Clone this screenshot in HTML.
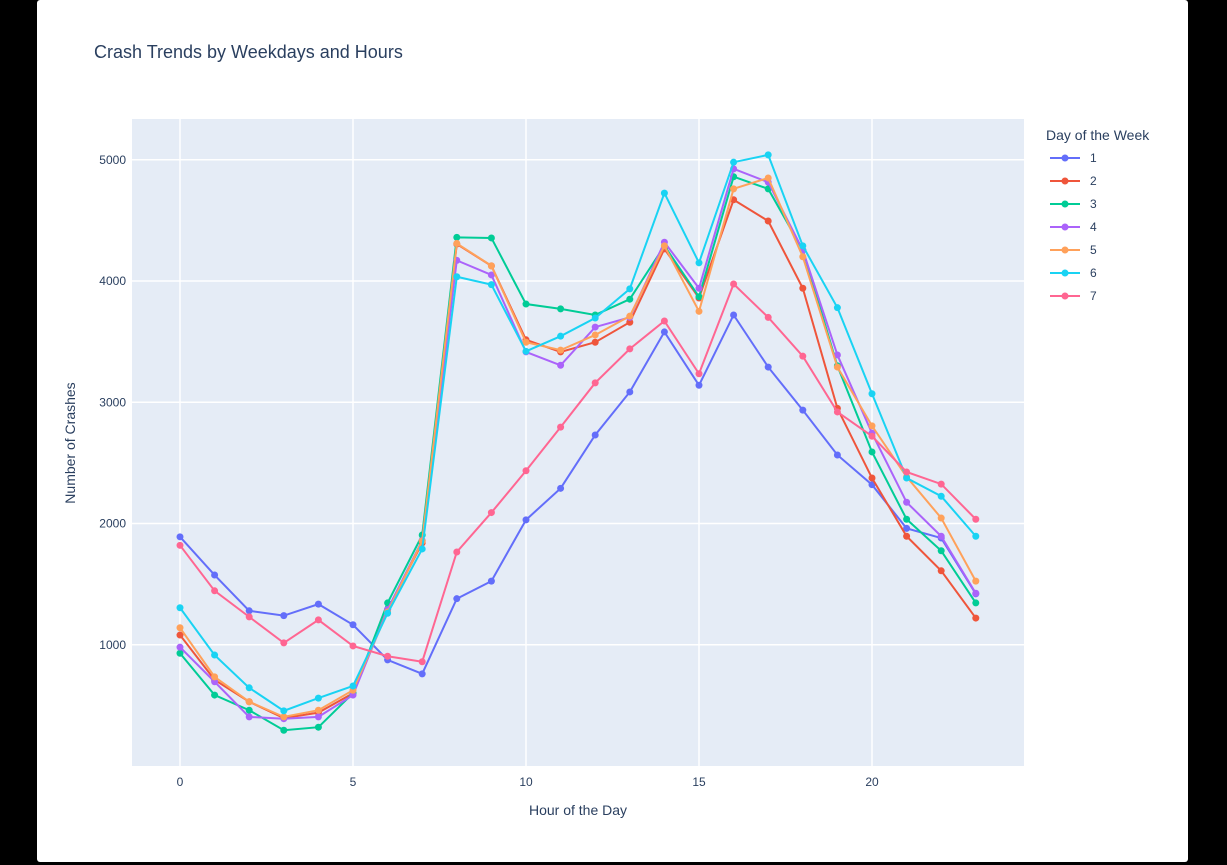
<!DOCTYPE html>
<html><head><meta charset="utf-8"><style>
body{margin:0;background:#000;width:1227px;height:865px;overflow:hidden;font-family:"Liberation Sans",sans-serif;}
#card{position:absolute;left:37px;top:0;width:1151px;height:862px;background:#fff;border-radius:3px;}
svg{position:absolute;left:0;top:0;}
</style></head><body>
<div id="card"></div>
<svg id="chart" width="1227" height="865"></svg>
<script>
const hours=[0,1,2,3,4,5,6,7,8,9,10,11,12,13,14,15,16,17,18,19,20,21,22,23];
const seriesNames=["1","2","3","4","5","6","7"];
const d1=[1890,1575,1280,1240,1335,1165,875,760,1380,1525,2030,2290,2730,3085,3580,3140,3720,3290,2935,2565,2320,1960,1880,1420];
const d2=[1080,710,530,395,440,600,1290,1840,4305,4125,3515,3415,3495,3660,4265,3860,4670,4495,3940,2950,2375,1895,1610,1220];
const d3=[930,585,460,295,320,600,1345,1905,4360,4355,3810,3770,3720,3850,4290,3870,4860,4760,4255,3300,2590,2035,1775,1345];
const d4=[980,695,405,390,405,585,1290,1860,4170,4050,3415,3305,3620,3700,4320,3940,4925,4815,4255,3390,2745,2175,1895,1425];
const d5=[1140,735,530,405,460,625,1270,1855,4310,4125,3495,3430,3555,3710,4290,3750,4760,4850,4200,3290,2805,2385,2045,1525];
const d6=[1305,915,645,455,560,660,1260,1790,4035,3970,3420,3545,3695,3935,4725,4150,4980,5040,4290,3780,3070,2375,2225,1895];
const d7=[1820,1445,1230,1015,1205,990,905,860,1765,2090,2435,2795,3160,3440,3670,3235,3975,3700,3380,2920,2720,2425,2325,2035];
const xTicks=[0,5,10,15,20];
const yTicks=[1000,2000,3000,4000,5000];
const allSeries=[d1,d2,d3,d4,d5,d6,d7];
const colors=["#636efa","#EF553B","#00cc96","#ab63fa","#FFA15A","#19d3f3","#FF6692"];
const L=132,R=1024,T=119,B=766;
const x=h=>180+(h-0)*34.6;
const y=v=>766-v*0.12125;
const svg=document.getElementById('chart');
const NS="http://www.w3.org/2000/svg";
function mk(tag,attrs,parent){const e=document.createElementNS(NS,tag);for(const k in attrs)e.setAttribute(k,attrs[k]);(parent||svg).appendChild(e);return e;}
const bg=mk('rect',{x:L,y:T,width:R-L,height:B-T,fill:'#e5ecf6'});


xTicks.forEach(t=>{
  const g=mk('line',{x1:x(t),x2:x(t),y1:T,y2:B,stroke:'#fff','stroke-width':1.5});
  
  
  const tx=mk('text',{x:x(t),y:B+20,'text-anchor':'middle','font-size':12,fill:'#2a3f5f'});
  tx.textContent=t;
  
  
});
yTicks.forEach(t=>{
  const g=mk('line',{x1:L,x2:R,y1:y(t),y2:y(t),stroke:'#fff','stroke-width':1.5});
  
  
  const tx=mk('text',{x:L-6,y:y(t)+4,'text-anchor':'end','font-size':12,fill:'#2a3f5f'});
  tx.textContent=t;
  
  
});
allSeries.forEach((s,i)=>{
  const g=mk('g',{});
  
  
  const p=mk('polyline',{points:s.map((v,j)=>x(hours[j])+','+y(v)).join(' '),fill:'none',stroke:colors[i],'stroke-width':2},g);
  
  
  s.forEach((v,j)=>{
    const c=mk('circle',{cx:x(hours[j]),cy:y(v),r:3.5,fill:colors[i]},g);
    
    
  });
  const ly=158+i*23;
  const lg=mk('g',{});
  
  
  mk('line',{x1:1050,x2:1080,y1:ly,y2:ly,stroke:colors[i],'stroke-width':2},lg);
  mk('circle',{cx:1065,cy:ly,r:3.5,fill:colors[i]},lg);
  const lt=mk('text',{x:1090,y:ly+4,'font-size':12,fill:'#2a3f5f'},lg);
  lt.textContent=seriesNames[i];
});
const title=mk('text',{x:94,y:58,'font-size':18,fill:'#2a3f5f'});
title.textContent='Crash Trends by Weekdays and Hours';


const xt=mk('text',{x:578,y:815,'text-anchor':'middle','font-size':14,fill:'#2a3f5f'});
xt.textContent='Hour of the Day';


const yt=mk('text',{x:75,y:443,'text-anchor':'middle','font-size':14,fill:'#2a3f5f',transform:'rotate(-90 75 443)'});
yt.textContent='Number of Crashes';


const lgt=mk('text',{x:1046,y:140,'font-size':14,fill:'#2a3f5f'});
lgt.textContent='Day of the Week';


</script>
</body></html>
